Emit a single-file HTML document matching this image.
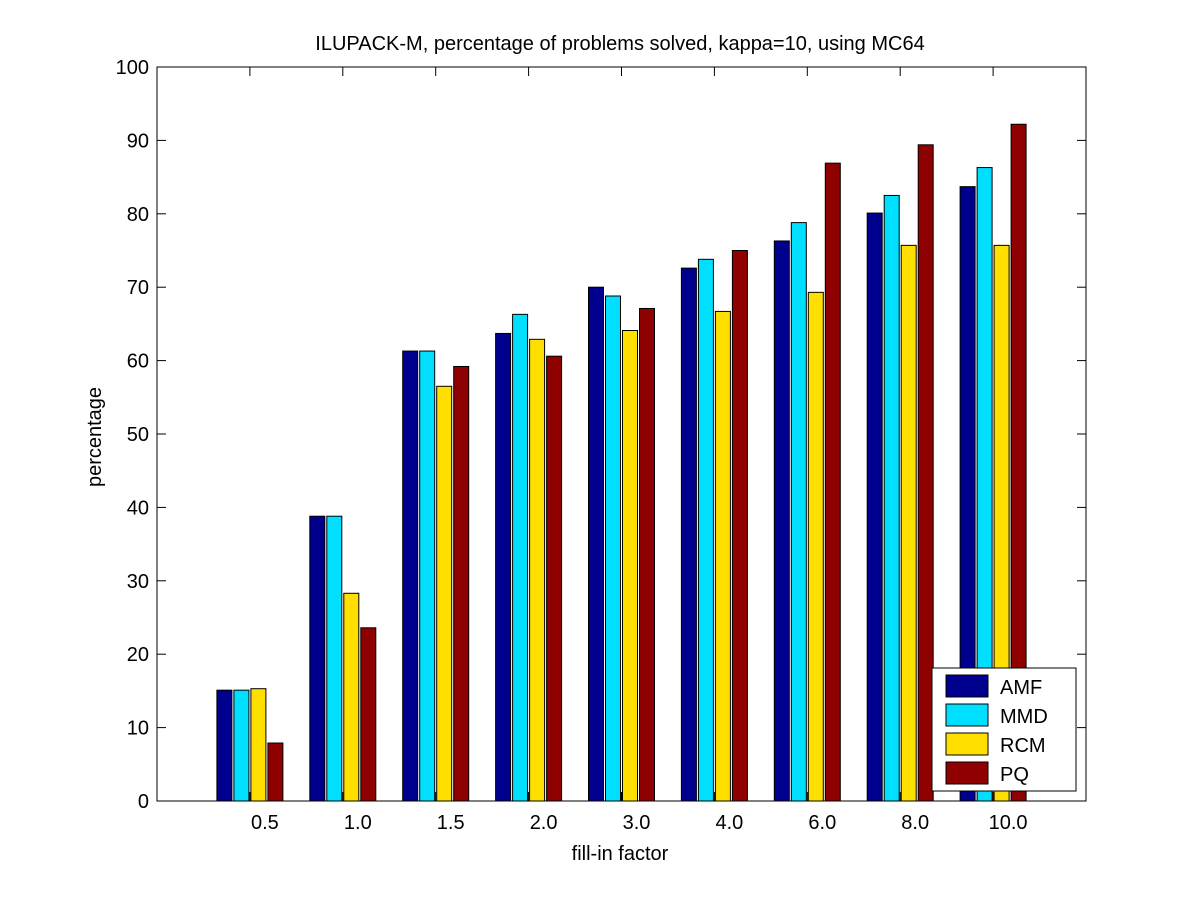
<!DOCTYPE html>
<html><head><meta charset="utf-8"><style>
body{margin:0;background:#fff;}
svg text{font-family:"Liberation Sans",sans-serif;fill:#000;}
</style></head><body>
<svg id="chart" width="1200" height="900" viewBox="0 0 1200 900">
<rect x="0" y="0" width="1200" height="900" fill="#fff"/>
<text x="620" y="50" font-size="20" text-anchor="middle">ILUPACK-M, percentage of problems solved, kappa=10, using MC64</text>
<text transform="translate(101,437) rotate(-90)" font-size="20" text-anchor="middle">percentage</text>
<text x="620" y="860" font-size="20" text-anchor="middle">fill-in factor</text>
<g id="bars"></g><g id="axes"></g><g id="legend"></g>
</svg>
<script>
const categories=["0.5","1.0","1.5","2.0","3.0","4.0","6.0","8.0","10.0"];
const seriesNames=["AMF","MMD","RCM","PQ"];
const amf=[15.1,38.8,61.3,63.7,70.0,72.6,76.3,80.1,83.7];
const mmd=[15.1,38.8,61.3,66.3,68.8,73.8,78.8,82.5,86.3];
const rcm=[15.3,28.3,56.5,62.9,64.1,66.7,69.3,75.7,75.7];
const pq=[7.9,23.6,59.2,60.6,67.1,75.0,86.9,89.4,92.2];
const yTicks=[0,10,20,30,40,50,60,70,80,90,100];
const colors=["#00008f","#00dfff","#ffdf00","#8f0000"];
const NS="http://www.w3.org/2000/svg";
const L=157,R=1086,T=67,B=801;
const xs=i=>L+(R-L)*(i+1)/10;
const ys=v=>B-(B-T)*v/100;
function mk(tag,attrs,parent){const e=document.createElementNS(NS,tag);for(const k in attrs)e.setAttribute(k,attrs[k]);parent.appendChild(e);return e;}
const barsG=document.getElementById('bars'),axG=document.getElementById('axes'),lg=document.getElementById('legend');
const series=[amf,mmd,rcm,pq];
series.forEach((s,k)=>{s.forEach((v,i)=>{
 const x=xs(i)-33+17*k;
 const r=mk('rect',{x:x,y:ys(v),width:15,height:ys(0)-ys(v),fill:colors[k],stroke:'#000','stroke-width':1},barsG);
 
 
});});
const box=mk('rect',{x:L,y:T,width:R-L,height:B-T,fill:'none',stroke:'#000','stroke-width':1},axG);


yTicks.forEach(v=>{
 const y=ys(v);
 mk('line',{x1:L,x2:L+9,y1:y,y2:y,stroke:'#000'},axG);
 mk('line',{x1:R,x2:R-9,y1:y,y2:y,stroke:'#000'},axG);
 const t=mk('text',{x:L-8,y:y+7,'font-size':20,'text-anchor':'end'},axG);
 t.textContent=v;
 
 
});
categories.forEach((c,i)=>{
 const x=xs(i);
 mk('line',{x1:x,x2:x,y1:B,y2:B-9,stroke:'#000'},axG);
 mk('line',{x1:x,x2:x,y1:T,y2:T+9,stroke:'#000'},axG);
 const t=mk('text',{x:x+15,y:B+28,'font-size':20,'text-anchor':'middle'},axG);
 t.textContent=c;
 
 
});
const lb=mk('rect',{x:932,y:668,width:144,height:123,fill:'#fff',stroke:'#000'},lg);


seriesNames.forEach((n,k)=>{
 const y=675+29*k;
 const sw=mk('rect',{x:946,y:y,width:42,height:22,fill:colors[k],stroke:'#000'},lg);
 
 
 const t=mk('text',{x:1000,y:y+19,'font-size':20},lg);
 t.textContent=n;
 
 
});
</script>
</body></html>
